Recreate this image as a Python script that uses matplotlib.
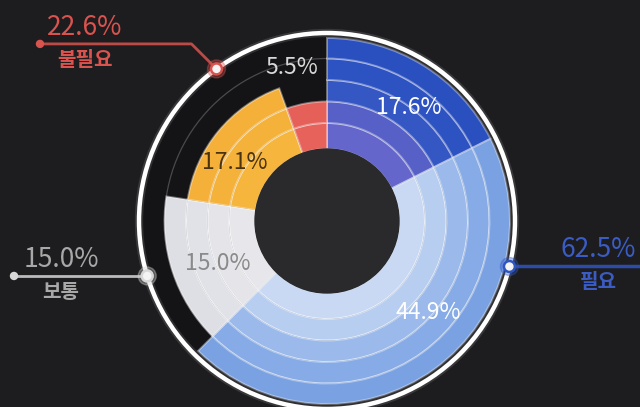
import numpy as np
import matplotlib.pyplot as plt
from matplotlib.patches import Wedge, Circle

plt.rcParams['font.family'] = ['Noto Sans CJK KR', 'DejaVu Sans']

# slices, clockwise from 12 o'clock
segment_values = [17.6, 44.9, 15.0, 17.1, 5.5]
segment_labels = ['17.6%', '44.9%', '15.0%', '17.1%', '5.5%']
segment_depth = [5, 5, 4, 3, 2]          # how many rings each slice fills
group_names = ['필요', '보통', '불필요']
group_values = [62.5, 15.0, 22.6]
group_labels = ['62.5%', '15.0%', '22.6%']

# ring colours, inner -> outer
ring_colors = [
    ['#6466cb', '#5660c7', '#3557c4', '#2d52c2', '#2a4fbf'],
    ['#c9d9f3', '#b8cef0', '#9bbaeb', '#86abe6', '#7aa1e2'],
    ['#e7e7eb', '#e4e4e9', '#e1e2e7', '#dedfe4'],
    ['#f6b53c', '#f5b23a', '#f4b039'],
    ['#e8625c', '#e6605a'],
]
label_colors = ['white', 'white', '#8a8a8a', '#4a3312', '#d8d8d8']
group_colors = ['#2f55c0', '#d8d8d8', '#d9534f']
group_text = ['#3a5cc4', '#a8a8a8', '#d9534f']

W, H = 640, 407
cx, cy = 327, H - 221
ring_edges = [72, 98, 119.5, 141, 162.5, 183]
outer_r = 188

# slice label placement
label_r = [140, 136, 117, 109, 157]
label_nudge = [4, -12, -3, -7, -3]

# layout of the callouts (clockwise degrees from top, pixel x positions)
anchor_deg = [104, 253, 324]
line_end_x = [W, 14, 40]
elbow = [0, 0, 25]
label_x = [598, 61, 85]

fig = plt.figure(figsize=(6.4, 4.07), dpi=100, facecolor='#1d1d1f')
ax = fig.add_axes([0, 0, 1, 1])
ax.set_xlim(0, W)
ax.set_ylim(0, H)
ax.set_aspect('equal')
ax.axis('off')
ax.set_facecolor('#1d1d1f')


def to_mpl(deg):
    return 90 - deg


def polar(r, deg):
    a = np.radians(deg)
    return cx + r * np.sin(a), cy + r * np.cos(a)


ax.add_patch(Circle((cx, cy), outer_r - 2, color='#141416', zorder=1))
ax.add_patch(Circle((cx, cy), ring_edges[4], fill=False, ec='#4a4a4e', lw=0.9, zorder=2))

total = sum(segment_values)
start = 0.0
for i, v in enumerate(segment_values):
    span = v / total * 360
    t1, t2 = to_mpl(start + span), to_mpl(start)
    for k in range(segment_depth[i]):
        r_in, r_out = ring_edges[k], ring_edges[k + 1]
        ax.add_patch(Wedge((cx, cy), r_out, t1, t2, width=r_out - r_in,
                           fc=ring_colors[i][k], ec=(1, 1, 1, 0.38), lw=1.4, zorder=3))
    tx, ty = polar(label_r[i], start + span / 2 + label_nudge[i])
    ax.text(tx, ty, segment_labels[i], color=label_colors[i], fontsize=16.5,
            ha='center', va='center', zorder=6)
    start += span

ax.add_patch(Circle((cx, cy), ring_edges[0], color='#2a2a2c', zorder=4))
ax.add_patch(Circle((cx, cy), outer_r, fill=False, ec='white', lw=6, alpha=0.12, zorder=4))
ax.add_patch(Circle((cx, cy), outer_r, fill=False, ec='white', lw=3.2, zorder=5))

for g in range(len(group_names)):
    mx, my = polar(outer_r, anchor_deg[g])
    ly = my + elbow[g]
    ex = line_end_x[g]
    xs = [mx, mx - elbow[g] * np.sign(mx - ex), ex]
    ys = [my, ly, ly]
    ax.plot(xs, ys, color=group_colors[g], lw=2.5 if g == 0 else 2, alpha=0.85,
            solid_capstyle='round', zorder=6)
    if ex < W:
        ax.add_patch(Circle((ex, ly), 3.5, color=group_colors[g], zorder=7))
    ax.add_patch(Circle((mx, my), 9, color=group_colors[g], alpha=0.35, zorder=7))
    ax.add_patch(Circle((mx, my), 6, color=group_colors[g], zorder=7))
    ax.add_patch(Circle((mx, my), 3.5, color='#f4f4f4', zorder=8))
    ax.text(label_x[g], ly + 3, group_labels[g], color=group_text[g], fontsize=19,
            ha='center', va='bottom', zorder=8)
    ax.text(label_x[g], ly - 5, group_names[g], color=group_text[g], fontsize=14.5,
            fontweight='bold', ha='center', va='top', zorder=8)

fig.savefig('out.png', dpi=100, facecolor=fig.get_facecolor())
